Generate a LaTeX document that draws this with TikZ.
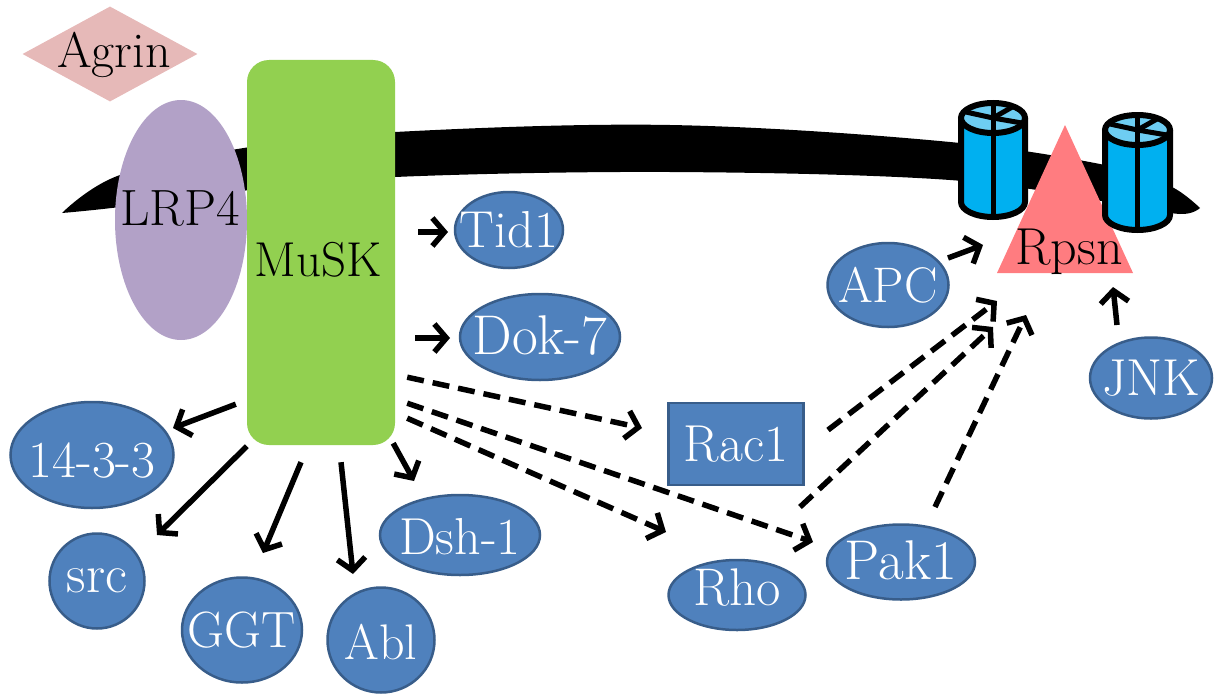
\documentclass[tikz,border=0pt]{standalone}
\usepackage{fontspec}
\usetikzlibrary{shapes.geometric,arrows.meta}

\definecolor{protfill}{RGB}{79,129,189}
\definecolor{protedge}{RGB}{56,93,138}
\definecolor{muskgreen}{RGB}{146,208,80}
\definecolor{lrpviolet}{RGB}{178,161,199}
\definecolor{agrinpink}{RGB}{230,185,184}
\definecolor{rpsnred}{RGB}{255,124,128}
\definecolor{chanblue}{RGB}{0,176,240}
\definecolor{chantopblue}{RGB}{110,205,242}

\newcommand\pfont[1]{\fontsize{#1}{#1}\selectfont\addfontfeatures{FakeBold=0.5}}

\tikzset{
  prot/.style={ellipse, draw=protedge, fill=protfill, line width=2.5pt, inner sep=0pt},
  protbox/.style={rectangle, draw=protedge, fill=protfill, line width=2.5pt, inner sep=0pt},
  ptext/.style={text=white, inner sep=0pt, text height=34pt, text depth=0pt},
  btext/.style={text=black, inner sep=0pt, text height=34pt, text depth=0pt},
  act/.style={line width=5.5pt, -{Straight Barb[length=12pt,width=28pt]}},
  indirect/.style={act, dash pattern=on 17pt off 9pt},
  chanbody/.style={fill=chanblue, draw=black, line width=6pt, line join=round},
  chantop/.style={fill=chantopblue, draw=black, line width=6pt},
  chanline/.style={draw=black, line width=5pt},
}

% blue protein ellipse with its white label
% #1 name, #2 position, #3 width, #4 height, #5 label, #6 font size, #7 extra label options
\newcommand\protein[7]{%
  \node[prot, minimum width=#3, minimum height=#4] (#1) at (#2) {};
  \node[ptext, font=\pfont{#6}, #7] (#1txt) at (#1) {#5};%
}

% ion channel drawn as a cylinder
% #1 centre x, #2 top ellipse y, #3 bottom ellipse y, #4 x radius
\newcommand\channel[4]{%
  \filldraw[chanbody] ({#1-#4},#2) -- ({#1-#4},#3)
    .. controls ({#1-#4},{#3+8.3}) and ({#1-0.5523*#4},{#3+15}) .. (#1,{#3+15})
    .. controls ({#1+0.5523*#4},{#3+15}) and ({#1+#4},{#3+8.3}) .. ({#1+#4},#3)
    -- ({#1+#4},#2) -- cycle;
  \draw[chanline] (#1,{#2+15}) -- (#1,{#3+15});
  \filldraw[chantop] (#1,#2) ellipse [x radius=#4, y radius=15];
  \draw[chanline] (#1,{#2-15}) -- (#1,{#2+15});
  \draw[chanline] ({#1-0.85*#4},{#2-6}) -- (#1,#2) -- ({#1+0.9*#4},{#2+5});
  \draw[chanline] (#1,#2) -- ({#1+0.6*#4},{#2-11});%
}

\begin{document}
\begin{tikzpicture}[x=1pt,y=-1pt]
\useasboundingbox (0,0) rectangle (1214,693);

% cell membrane
\fill[black]
  plot[smooth, tension=0.6] coordinates {(62,213) (120,175) (250,147) (395,132) (670,125) (950,142) (1120,168) (1172,187) (1200,208)}
  -- plot[smooth, tension=0.6] coordinates {(1200,208) (1180,214) (1120,204) (950,180) (670,172) (395,177) (250,190) (120,207) (62,213)}
  -- cycle;

% rapsyn and the channels it clusters
\channel{993}{118}{202}{32}
\fill[rpsnred] (997,273) -- (1065,125) -- (1133,273) -- cycle;
\channel{1137.5}{130}{215}{32.5}
\node[btext, font=\pfont{52}] (rpsn) at (1069,247) {Rpsn};

% receptor complex
\node[diamond, fill=agrinpink, minimum width=175, minimum height=95, inner sep=0pt] (agrin) at (110,54) {};
\node[btext, font=\pfont{50}] (agrintxt) at (114,50) {Agrin};
\node[ellipse, fill=lrpviolet, minimum width=132, minimum height=240, inner sep=0pt] (lrp4) at (181,220) {};
\node[btext, font=\pfont{51}] (lrp4txt) at (180,208) {LRP4};
\node[rectangle, fill=muskgreen, rounded corners=22pt, minimum width=148, minimum height=385, inner sep=0pt] (musk) at (321,252.5) {};
\node[btext, font=\pfont{49}] (musktxt) at (318,259) {MuSK};

% downstream proteins
\protein{tid}{509,230}{108}{76}{Tid1}{52}{}
\protein{dok}{540,337}{160}{86}{Dok-7}{56}{}
\protein{ywha}{92,455}{163}{106}{14-3-3}{52}{yshift=-5pt}
\protein{src}{97,581}{95}{95}{src}{54}{text height=23pt}
\protein{ggt}{242,630}{120}{105}{GGT}{51}{}
\protein{abl}{381,640}{107}{105}{Abl}{50}{yshift=-2pt}
\protein{dsh}{460,535}{160}{80}{Dsh-1}{52}{yshift=-2pt}
\protein{rho}{737,595}{137}{70}{Rho}{53}{yshift=7pt}
\protein{pak}{901,562}{148}{75}{Pak1}{56}{}
\protein{apc}{888,285}{121}{84}{APC}{50}{}
\protein{jnk}{1151,378}{122}{81}{JNK}{52}{}
\node[protbox, minimum width=135, minimum height=82] (rac1) at (736,444) {};
\node[ptext, font=\pfont{52}] (rac1txt) at (rac1) {Rac1};

% direct interactions
\draw[act] ([shift={(23,-20.5)}]musk.east) -- ([shift={(-61,2)}]tid.center);
\draw[act] ([shift={(20,85.5)}]musk.east) -- ([shift={(-90,1)}]dok.center);
\draw[act] ([shift={(-11,-41)}]musk.south west) -- ([shift={(81,-27)}]ywha.center);
\draw[act] ([shift={(0,1)}]musk.south west) -- ([shift={(60,-46)}]src.center);
\draw[act] ([shift={(-20,17)}]musk.south) -- ([shift={(21,-77)}]ggt.center);
\draw[act] ([shift={(20,17)}]musk.south) -- ([shift={(-28,-66)}]abl.center);
\draw[act] ([shift={(-2,-2)}]musk.south east) -- ([shift={(-46,-54)}]dsh.center);
\draw[act] ([shift={(60,-27)}]apc.center) -- ([shift={(-86,-2)}]rpsn.center);
\draw[act] ([shift={(-34,-53)}]jnk.center) -- ([shift={(44,40)}]rpsn.center);

% indirect interactions
\draw[indirect] ([shift={(12,-68)}]musk.south east) -- ([shift={(-94,-16)}]rac1.center);
\draw[indirect] ([shift={(12,-42)}]musk.south east) -- ([shift={(-88,-20)}]pak.center);
\draw[indirect] ([shift={(12,-27)}]musk.south east) -- ([shift={(-71,-63)}]rho.center);
\draw[indirect] ([shift={(92,-14)}]rac1.center) -- ([shift={(-72,54)}]rpsn.center);
\draw[indirect] ([shift={(63,-88)}]rho.center) -- ([shift={(-76,80)}]rpsn.center);
\draw[indirect] ([shift={(34,-55)}]pak.center) -- ([shift={(-43,68)}]rpsn.center);
\end{tikzpicture}
\end{document}
